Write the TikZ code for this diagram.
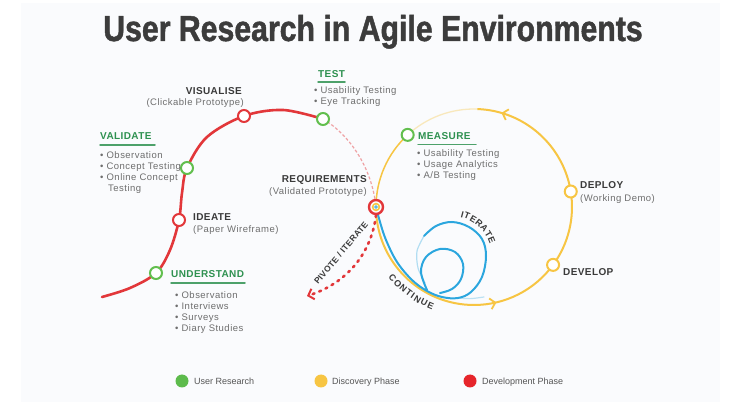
\documentclass[tikz,border=0pt]{standalone}
\usepackage{fontspec}
\setmainfont{Liberation Sans}
\newfontfamily\titlefont[FakeStretch=0.84, BoldFeatures={FakeBold=1.3}]{Liberation Sans}
\newfontfamily\lblfont[LetterSpace=4]{Liberation Sans}
\newfontfamily\subfont[LetterSpace=5]{Liberation Sans}
\usetikzlibrary{arrows.meta,decorations.markings,calc}

\definecolor{panelbg}{HTML}{FAFBFD}
\definecolor{titlegray}{HTML}{3C3C3C}
\definecolor{headgray}{HTML}{3A3A3A}
\definecolor{textgray}{HTML}{6E6E6E}
\definecolor{legendtext}{HTML}{555555}
\definecolor{resgreen}{HTML}{2E9150}
\definecolor{ringgreen}{HTML}{62BF4E}
\definecolor{discyellow}{HTML}{F7C543}
\definecolor{devred}{HTML}{E2373A}
\definecolor{iterblue}{HTML}{2BA6DE}
\definecolor{legendgreen}{HTML}{5DBB4C}
\definecolor{legendred}{HTML}{E6252B}

\tikzset{
  stage/.style={circle, draw, fill=white, line width=2pt, minimum size=12pt, inner sep=0pt},
  heading/.style={font={\lblfont\bfseries\fontsize{10}{12}\selectfont}, text=headgray, inner sep=0pt},
  greenhead/.style={heading, text=resgreen},
  subtitle/.style={font={\subfont\fontsize{9.5}{11}\selectfont}, text=textgray, inner sep=0pt},
  bullets/.style={subtitle, align=left, anchor=north west},
  underline/.style={resgreen!85, line width=1.5pt, line cap=round},
  redline/.style={devred, line width=2.6pt, line cap=round},
  yelline/.style={discyellow, line width=2pt},
  blueline/.style={iterblue, line width=2pt, line cap=round},
  arcletter/.style={font={\lblfont\bfseries\fontsize{9}{10}\selectfont}, text=headgray, inner sep=0pt},
  legenddot/.style={circle, inner sep=0pt, minimum size=13pt},
  legendlabel/.style={font={\fontsize{9}{10}\selectfont}, text=legendtext, inner sep=0pt, anchor=base west},
  arrowat/.style={postaction={decorate}, decoration={markings,
      mark=at position #1 with {\arrow{Straight Barb[length=5pt,width=11pt,line width=1.8pt]}}}}
}

\begin{document}
\begin{tikzpicture}[x=1pt,y=-1pt]
\useasboundingbox (0,0) rectangle (747,411);
\fill[white] (0,0) rectangle (747,411);
\fill[panelbg] (21,3) rectangle (720,402);

% title
\node[font={\titlefont\bfseries\fontsize{36}{40}\selectfont}, text=titlegray, anchor=base, inner sep=0pt]
  (title) at (373,41) {User Research in Agile Environments};

% stage positions
\coordinate (red-start) at (102,297);
\coordinate (c-und) at (156,273);
\coordinate (c-ide) at (179,220);
\coordinate (c-val) at (187,168);
\coordinate (c-vis) at (244,116);
\coordinate (c-tes) at (323,119);
\coordinate (c-req) at (376,207);
\coordinate (c-dev) at ([shift={(36.2:98)}]474,207);
\coordinate (c-dep) at ([shift={(-9.1:98)}]474,207);
\coordinate (c-mea) at ([shift={(-132.6:98)}]474,207);
\coordinate (pivot-end) at (307,296);

% development path (red)
\draw[redline] plot[smooth, tension=0.55] coordinates
  {(red-start) (130,288) (c-und) (170,250) (c-ide) (182,193) (c-val) (207,137) (c-vis) (283,110) (c-tes)};
\draw[devred, opacity=0.45, line width=1.2pt, dash pattern=on 3pt off 2pt]
  (c-tes) .. controls (350,135) and (372,168) .. (c-req);

% discovery cycle (yellow)
\draw[yelline, arrowat=0.718] (c-req) arc[start angle=180, end angle=36.2, radius=98];
\draw[yelline] (c-dev) arc[start angle=36.2, end angle=-9.1, radius=98];
\draw[yelline, arrowat=0.82] (c-dep) arc[start angle=-9.1, end angle=-88, radius=98];
\draw[yelline, opacity=0.35, line width=1.3pt] ([shift={(-88:98)}]474,207) arc[start angle=-88, end angle=-132.6, radius=98];
\draw[yelline, line width=1.5pt] (c-mea) arc[start angle=-132.6, end angle=-180, radius=98];

% iteration spiral (blue)
\draw[blueline] plot[smooth, tension=0.6] coordinates
  {(c-req) (380,222) (386,240) (397,262) (412,280) (427,291) (442,297) (458,298) (471,292)
   (482,277) (486,256) (482,239) (469,227) (452,222) (436,226) (424,236)};
\draw[blueline, opacity=0.35, line width=1.2pt] plot[smooth] coordinates
  {(424,236) (417,251) (418,268) (425,283)};
\draw[blueline] plot[smooth, tension=0.6] coordinates
  {(427,290) (421,272) (426,257) (440,249) (455,252) (463,264) (461,279) (452,289) (440,293)};
\draw[blueline, opacity=0.3, line width=1.2pt] (458,298) .. controls (470,299) .. (484,297);

% pivot arrow (red dotted)
\draw[devred, line width=2.6pt, line cap=round, dash pattern=on 2pt off 5pt,
      -{Straight Barb[length=5pt,width=11pt,line width=2pt]}]
  (c-req) ++(0,8) .. controls (372,250) and (350,282) .. (pivot-end);

% stage markers
\node[stage, draw=ringgreen] (und) at (c-und) {};
\node[stage, draw=devred] (ide) at (c-ide) {};
\node[stage, draw=ringgreen] (val) at (c-val) {};
\node[stage, draw=devred] (vis) at (c-vis) {};
\node[stage, draw=ringgreen] (tes) at (c-tes) {};
\node[stage, draw=ringgreen] (mea) at (c-mea) {};
\node[stage, draw=discyellow] (dep) at (c-dep) {};
\node[stage, draw=discyellow] (dev) at (c-dev) {};
\node[stage, draw=devred, line width=2.4pt, minimum size=14pt] (req) at (c-req) {};
\draw[discyellow, line width=1.6pt] (req.center) circle (3.4pt);
\fill[iterblue] (req.center) circle (1.8pt);
\fill[white] (req.center) circle (0.6pt);

% labels
\node[greenhead, anchor=base west] (test-h) at (318,77.6) {TEST};
\draw[underline] (318,82) -- (345,82);
\node[bullets] (test-b) at (314,86) {• Usability Testing\\• Eye Tracking};

\node[heading, anchor=base east] (vis-h) at (242,94.3) {VISUALISE};
\node[subtitle, anchor=base east] (vis-s) at (244,105.4) {(Clickable Prototype)};

\node[greenhead, anchor=base west] (val-h) at (100,139.6) {VALIDATE};
\draw[underline] (100,145) -- (155,145);
\node[bullets] (val-b) at (100,151.5)
  {• Observation\\• Concept Testing\\• Online Concept\\\hspace*{8pt}Testing};

\node[heading, anchor=base east] (req-h) at (367,182.6) {REQUIREMENTS};
\node[subtitle, anchor=base east] (req-s) at (367,194.4) {(Validated Prototype)};

\node[heading, anchor=base west] (ide-h) at (193,220.6) {IDEATE};
\node[subtitle, anchor=base west] (ide-s) at (193,232.4) {(Paper Wireframe)};

\node[greenhead, anchor=base west] (und-h) at (171,277.6) {UNDERSTAND};
\draw[underline] (171,283) -- (245,283);
\node[bullets] (und-b) at (175,291.5)
  {• Observation\\• Interviews\\• Surveys\\• Diary Studies};

\node[greenhead, anchor=base west] (mea-h) at (418,139.6) {MEASURE};
\draw[underline] (418,144.5) -- (476,144.5);
\node[bullets] (mea-b) at (417,149.5)
  {• Usability Testing\\• Usage Analytics\\• A/B Testing};

\node[heading, anchor=base west] (dep-h) at (580,188.6) {DEPLOY};
\node[subtitle, anchor=base west] (dep-s) at (580,201.4) {(Working Demo)};

\node[heading, anchor=base west] (dev-h) at (563,275.6) {DEVELOP};

% path captions
\node[arcletter, font={\lblfont\bfseries\fontsize{8.5}{10}\selectfont}, rotate=50]
  (pivot-t) at (341,253) {PIVOTE / ITERATE};
\foreach \ch/\ang [count=\i] in {I/75, T/68.5, E/59.7, R/50.3, A/40.5, T/31.4, E/22.6} {
  \node[arcletter, rotate=\ang-90] (iter-\i) at ([shift={(-\ang:44)}]451,257) {\ch};
}
\foreach \ch/\ang [count=\i] in {C/221, O/225.1, N/229.2, T/232.9, I/235.6, N/238.5, U/242.5, E/246.3} {
  \node[arcletter, rotate=\ang+90] (cont-\i) at ([shift={(-\ang:108)}]474,207) {\ch};
}

% legend
\node[legenddot, fill=legendgreen] (leg-g) at (182,381) {};
\node[legendlabel] (leg-g-t) at (194,384.2) {User Research};
\node[legenddot, fill=discyellow] (leg-y) at (321,381) {};
\node[legendlabel] (leg-y-t) at (332,384.2) {Discovery Phase};
\node[legenddot, fill=legendred] (leg-r) at (470,381) {};
\node[legendlabel] (leg-r-t) at (482,384.2) {Development Phase};
\end{tikzpicture}
\end{document}
